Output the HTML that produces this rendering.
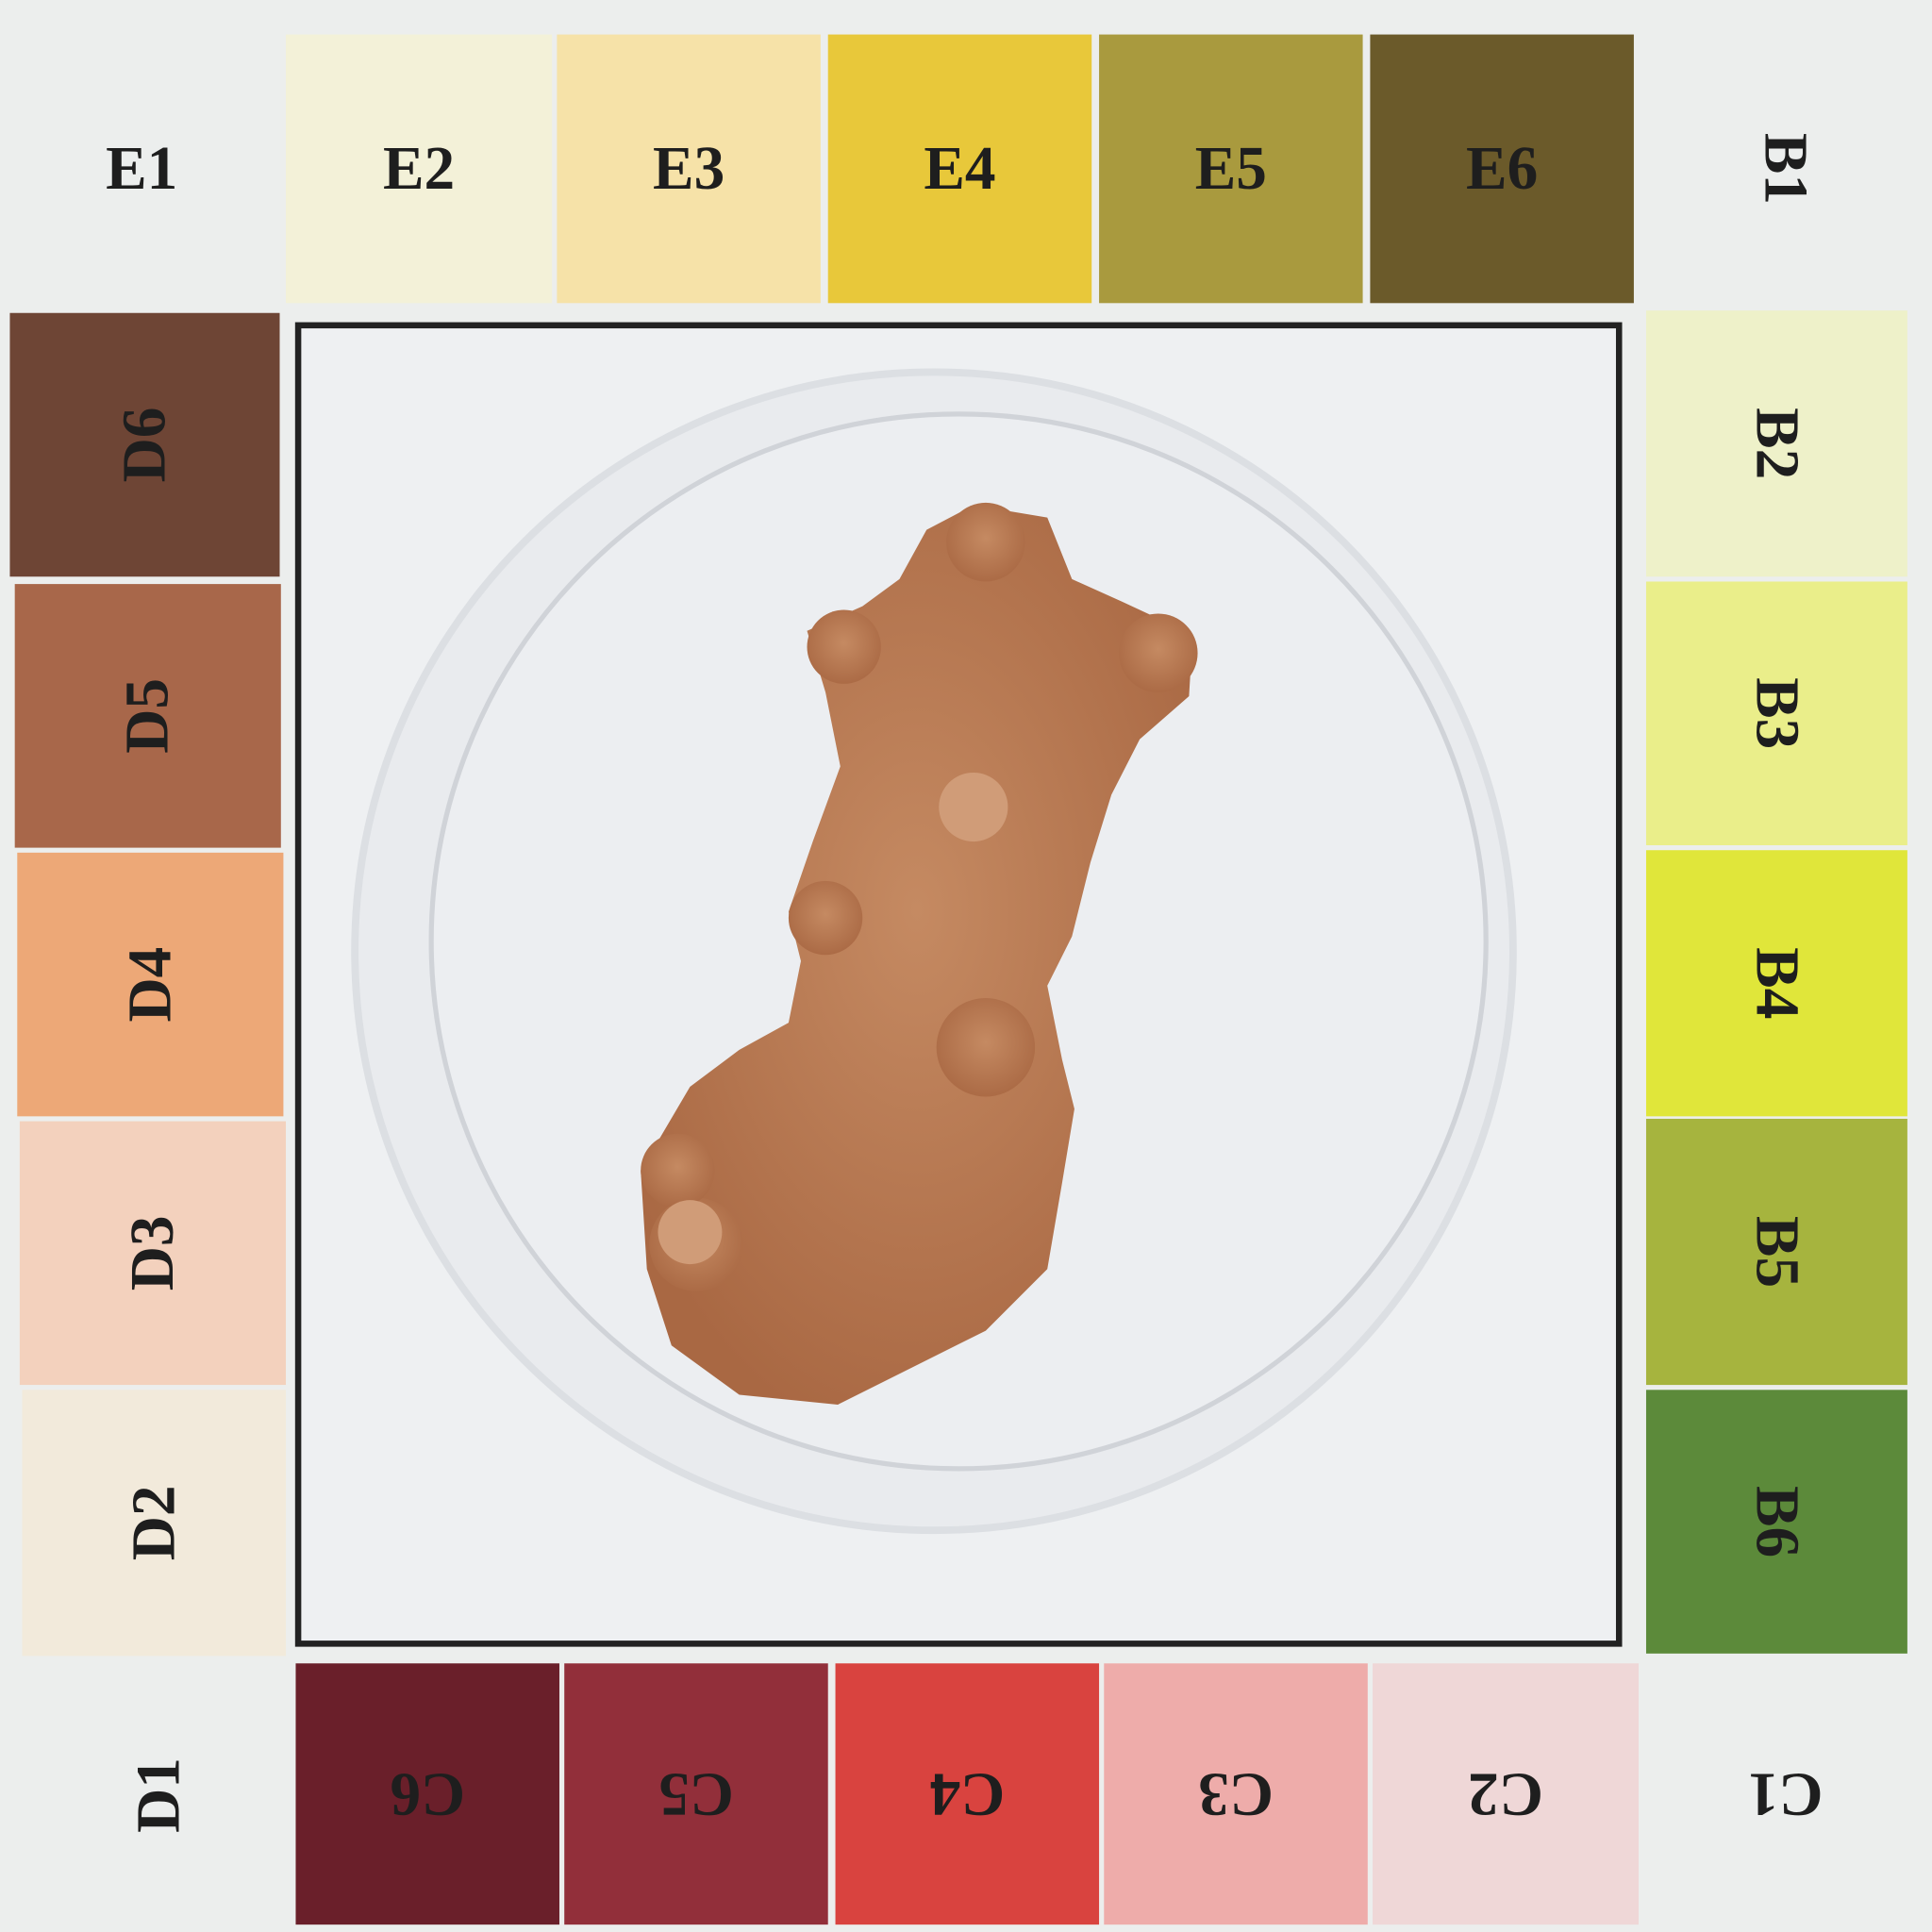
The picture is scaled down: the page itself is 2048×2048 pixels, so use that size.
<!DOCTYPE html>
<html><head><meta charset="utf-8"><style>
html,body{margin:0;padding:0;background:#eceeed;}
svg{display:block;}
text{font-family:"Liberation Serif",serif;font-weight:bold;font-size:50px;fill:#1e1e1e;}
</style></head><body>
<svg width="2048" height="2048" viewBox="0 0 1568 1568" xmlns="http://www.w3.org/2000/svg">
<defs>
<radialGradient id="coralg" cx="0.5" cy="0.45" r="0.6">
<stop offset="0" stop-color="#c58a62"/><stop offset="1" stop-color="#a96843"/>
</radialGradient>
</defs>
<rect x="0" y="0" width="1568" height="1568" fill="#eceeed"/>
<g id="sw"></g>
<rect x="242" y="264" width="1072" height="1070" fill="#eef0f2" stroke="#222" stroke-width="5"/>
<circle cx="758" cy="772" r="470" fill="#e9ebee" stroke="#dcdfe3" stroke-width="6"/>
<circle cx="778" cy="764" r="428" fill="#eceef1" stroke="#d0d3d8" stroke-width="4"/>
<g fill="url(#coralg)">
<path d="M790,410 L850,420 L870,470 L910,488 L968,515 L965,565 L925,600 L902,645 L885,700 L870,760 L850,800 L862,860 L872,900 L862,960 L850,1030 L800,1080 L740,1110 L680,1140 L600,1132 L545,1092 L525,1030 L520,950 L560,882 L600,852 L640,830 L650,780 L640,740 L660,682 L682,622 L670,562 L655,512 L700,492 L730,470 L752,430 Z"/>
<circle cx="685" cy="525" r="30"/><circle cx="940" cy="530" r="32"/><circle cx="800" cy="440" r="32"/>
<circle cx="670" cy="745" r="30"/><circle cx="800" cy="850" r="40"/><circle cx="565" cy="1010" r="38"/>
<circle cx="550" cy="950" r="30"/><circle cx="790" cy="655" r="28" fill="#d09c78"/><circle cx="560" cy="1000" r="26" fill="#d09c78"/>
</g>
</svg>
<script>
const sw=document.getElementById('sw');
const NS='http://www.w3.org/2000/svg';
const cells=[
['E1',0,28,230,218,'#eceeed',0],['E2',232,28,216,218,'#f3f1d8',0],['E3',452,28,214,218,'#f6e2a8',0],['E4',672,28,214,218,'#e8c83a',0],['E5',892,28,214,218,'#a99a3e',0],['E6',1112,28,214,218,'#6b5a2a',0],['B1',1330,28,238,218,'#eceeed',90],
['D6',8,254,219,214,'#6e4535',-90],['D5',12,474,216,214,'#a8674a',-90],['D4',14,692,216,214,'#eda877',-90],['D3',16,910,216,214,'#f3d1bd',-90],['D2',18,1128,214,216,'#f2eadb',-90],['D1',18,1346,222,222,'#eceeed',-90],
['B2',1336,252,212,216,'#eef1c9',90],['B3',1336,472,212,214,'#eaee8a',90],['B4',1336,690,212,216,'#e0e63a',90],['B5',1336,908,212,216,'#a6b43e',90],['B6',1336,1128,212,214,'#5c8a3a',90],
['C6',240,1350,214,212,'#6a1f2a',180],['C5',458,1350,214,212,'#922f3a',180],['C4',678,1350,214,212,'#d9433f',180],['C3',896,1350,214,212,'#eeacaa',180],['C2',1114,1350,216,212,'#efd7d7',180],['C1',1330,1350,238,212,'#eceeed',180]
];
cells.forEach(c=>{
const [l,x,y,w,h,col,rot]=c;
const r=document.createElementNS(NS,'rect');


r.setAttribute('x',x);r.setAttribute('y',y);r.setAttribute('width',w);r.setAttribute('height',h);r.setAttribute('fill',col);
sw.appendChild(r);
const cx=x+w/2,cy=y+h/2;
const t=document.createElementNS(NS,'text');


t.setAttribute('x',cx);t.setAttribute('y',cy);
t.setAttribute('text-anchor','middle');t.setAttribute('dominant-baseline','central');
t.setAttribute('transform','rotate('+rot+' '+cx+' '+cy+')');
t.textContent=l;
sw.appendChild(t);
});
</script>
</body></html>
